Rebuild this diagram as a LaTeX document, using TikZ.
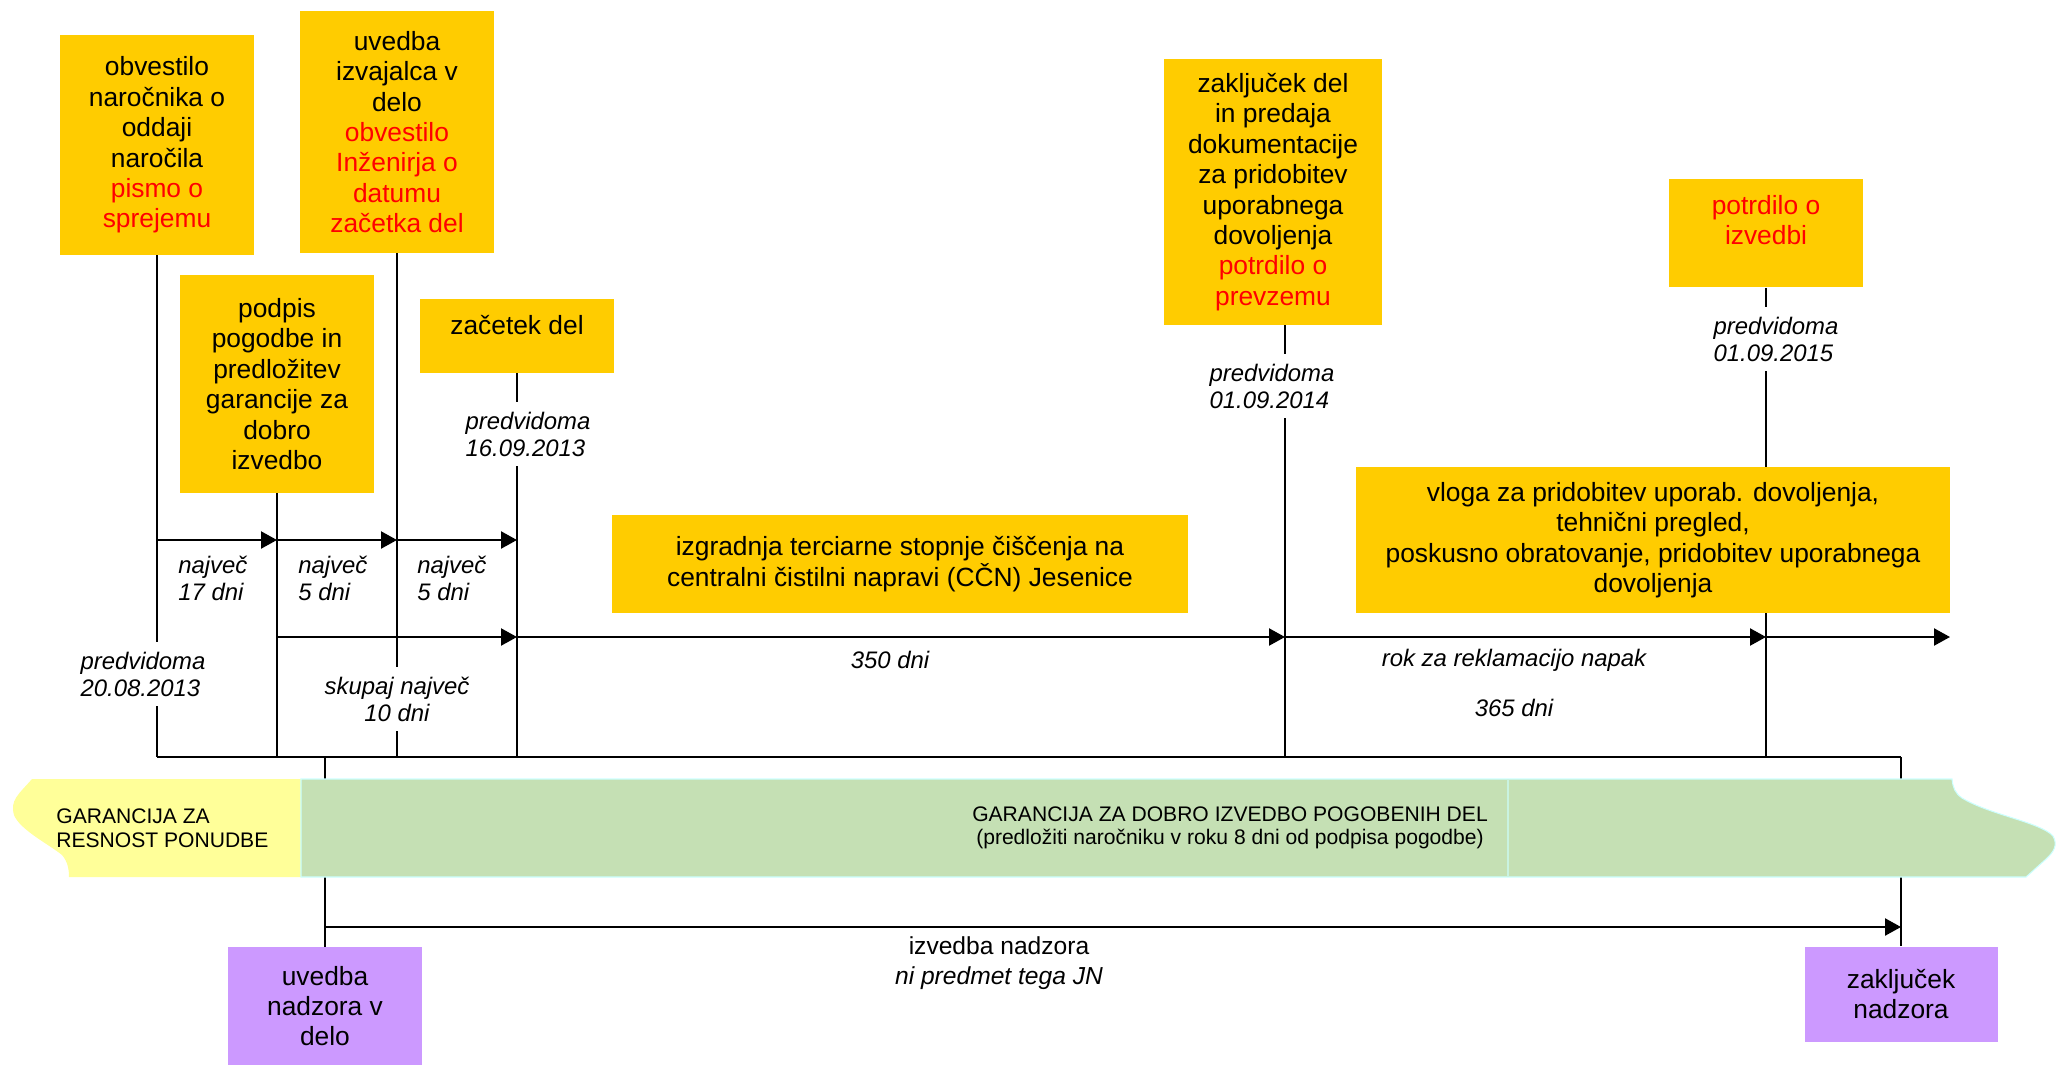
\documentclass[tikz,border=0pt]{standalone}
\usepackage{fontspec}
\setmainfont{Liberation Sans}
\usetikzlibrary{arrows.meta}

\definecolor{rumena}{HTML}{FFCC00}
\definecolor{lila}{HTML}{CC99FF}
\definecolor{zelena}{HTML}{C5E0B4}
\definecolor{svetlorumena}{HTML}{FFFF99}
\definecolor{obroba}{HTML}{CCFFFF}

\tikzset{
  faza/.style={fill=rumena, align=center, inner sep=0pt,
    font=\fontsize{15}{17.3}\selectfont},
  nadzor/.style={fill=lila, align=center, inner sep=0pt,
    font=\fontsize{15}{17.3}\selectfont},
  rok/.style={font=\fontsize{13.6}{15.4}\selectfont\itshape, inner sep=0pt},
  datum/.style={rok, align=left, fill=white, inner xsep=1pt, inner ysep=0.2cm},
  crta/.style={line width=1.1pt},
  puscica/.style={line width=1.3pt, -{Triangle[length=0.32cm,width=0.34cm]}},
}

\begin{document}
\begin{tikzpicture}[x=0.02cm, y=-0.02cm]
    \useasboundingbox (0,0) rectangle (2056,1065);

    % mejniki
    \node[faza, minimum width=3.88cm, minimum height=4.4cm] (A) at (157,145)
      {obvestilo\\naročnika o\\oddaji\\naročila\\\textcolor{red}{pismo o}\\\textcolor{red}{sprejemu}};
    \node[faza, minimum width=3.88cm, minimum height=4.84cm] (B) at (397,132)
      {uvedba\\izvajalca v\\delo\\\textcolor{red}{obvestilo}\\\textcolor{red}{Inženirja o}\\\textcolor{red}{datumu}\\\textcolor{red}{začetka del}};
    \node[faza, minimum width=3.88cm, minimum height=4.36cm] (C) at (277,384)
      {podpis\\pogodbe in\\predložitev\\garancije za\\dobro\\izvedbo};
    \node[faza, minimum width=3.88cm, minimum height=1.48cm, text depth=0.46cm] (D) at (517,336)
      {začetek del};
    \node[faza, minimum width=4.38cm, minimum height=5.32cm] (E) at (1273,192)
      {zaključek del\\in predaja\\dokumentacije\\za pridobitev\\uporabnega\\dovoljenja\\\textcolor{red}{potrdilo o}\\\textcolor{red}{prevzemu}};
    \node[faza, minimum width=3.88cm, minimum height=2.18cm, text depth=0.52cm] (F) at (1766,233)
      {\textcolor{red}{potrdilo o}\\\textcolor{red}{izvedbi}};
    \node[faza, minimum width=11.54cm, minimum height=1.96cm] (G) at (900,564)
      {izgradnja terciarne stopnje čiščenja na\\centralni čistilni napravi (CČN) Jesenice};
    \node[faza, minimum width=11.9cm, minimum height=2.92cm] (H) at (1653,540)
      {vloga za pridobitev uporab. dovoljenja,\\tehnični pregled,\\poskusno obratovanje, pridobitev uporabnega\\dovoljenja};
    \node[nadzor, minimum width=3.88cm, minimum height=2.36cm] (I) at (325,1006)
      {uvedba\\nadzora v\\delo};
    \node[nadzor, minimum width=3.86cm, minimum height=1.9cm] (J) at (1901,994)
      {zaključek\\nadzora};

    \coordinate (r1) at (0,540);
    \coordinate (r2) at (0,637);
    \coordinate (dno) at (0,757);
    \coordinate (r3) at (0,927);
    \coordinate (e5) at (1285,0);
    \coordinate (konec) at (1950,637);

    % navpicnice
    \draw[crta] (A.south) -- (A.south |- dno);
    \draw[crta] (C.south) -- (C.south |- dno);
    \draw[crta] (B.south) -- (B.south |- dno);
    \draw[crta] (D.south) -- (D.south |- dno);
    \draw[crta] (e5 |- E.south) -- (e5 |- dno);
    \draw[crta] (F.south) -- (F.south |- H.north);
    \draw[crta] (F.south |- H.south) -- (F.south |- dno);
    \draw[crta] (A.south |- dno) -- (J.north |- dno);
    \draw[crta] (I.north) -- (I.north |- dno);
    \draw[crta] (J.north) -- (J.north |- dno);

    % roki
    \draw[puscica] (A.south |- r1) -- (C.south |- r1);
    \draw[puscica] (C.south |- r1) -- (B.south |- r1);
    \draw[puscica] (B.south |- r1) -- (D.south |- r1);
    \draw[puscica] (C.south |- r2) -- (D.south |- r2);
    \draw[puscica] (D.south |- r2) -- (e5 |- r2);
    \draw[puscica] (e5 |- r2) -- (F.south |- r2);
    \draw[puscica] (F.south |- r2) -- (konec);
    \draw[puscica] (I.north |- r3) -- (J.north |- r3);

    \node[rok, align=left, anchor=west] (n17) at (178,578) {največ\\17 dni};
    \node[rok, align=left, anchor=west] (n5a) at (298,578) {največ\\5 dni};
    \node[rok, align=left, anchor=west] (n5b) at (417,578) {največ\\5 dni};
    \node[datum] (p1) at (143,674) {predvidoma\\20.08.2013};
    \node[datum, align=center] (skupaj) at (397,699) {skupaj največ\\10 dni};
    \node[datum] (p2) at (528,434) {predvidoma\\16.09.2013};
    \node[datum] (p3) at (1272,386) {predvidoma\\01.09.2014};
    \node[datum] (p4) at (1776,339) {predvidoma\\01.09.2015};
    \node[rok] (d350) at (890,660) {350 dni};
    \node[rok] (reklamacija) at (1514,660) {rok za reklamacijo napak};
    \node[rok] (d365) at (1514,708) {365 dni};

    % garancije
    \fill[svetlorumena] (301,779) -- (32,779)
      .. controls (18,795) and (10,800) .. (14,815)
      .. controls (20,830) and (50,845) .. (62,855)
      .. controls (68,862) and (69,870) .. (69,877) -- (301,877) -- cycle;
    \filldraw[fill=zelena, draw=obroba, line width=0.6pt] (301,779) -- (1952,779)
      .. controls (1953,788) and (1955,793) .. (1962,798)
      .. controls (1990,815) and (2040,822) .. (2053,836)
      .. controls (2058,845) and (2054,852) .. (2045,860)
      -- (2026,877) -- (301,877) -- cycle;
    \draw[obroba!60!zelena, line width=0.6pt] (1508,779) -- (1508,877);
    \node[align=left, anchor=west, inner sep=0pt, font=\fontsize{12}{13.4}\selectfont] (resnost)
      at (56,828) {GARANCIJA ZA\\RESNOST PONUDBE};
    \node[align=center, inner sep=0pt, font=\fontsize{12}{13.4}\selectfont] (dobro)
      at (1230,828) {GARANCIJA ZA DOBRO IZVEDBO POGOBENIH DEL\\(predložiti naročniku v roku 8 dni od podpisa pogodbe)};

    \node[align=center, inner sep=0pt, font=\fontsize{14}{17}\selectfont] (izvedba)
      at (999,963) {izvedba nadzora\\\textit{ni predmet tega JN}};
  \end{tikzpicture}
\end{document}
